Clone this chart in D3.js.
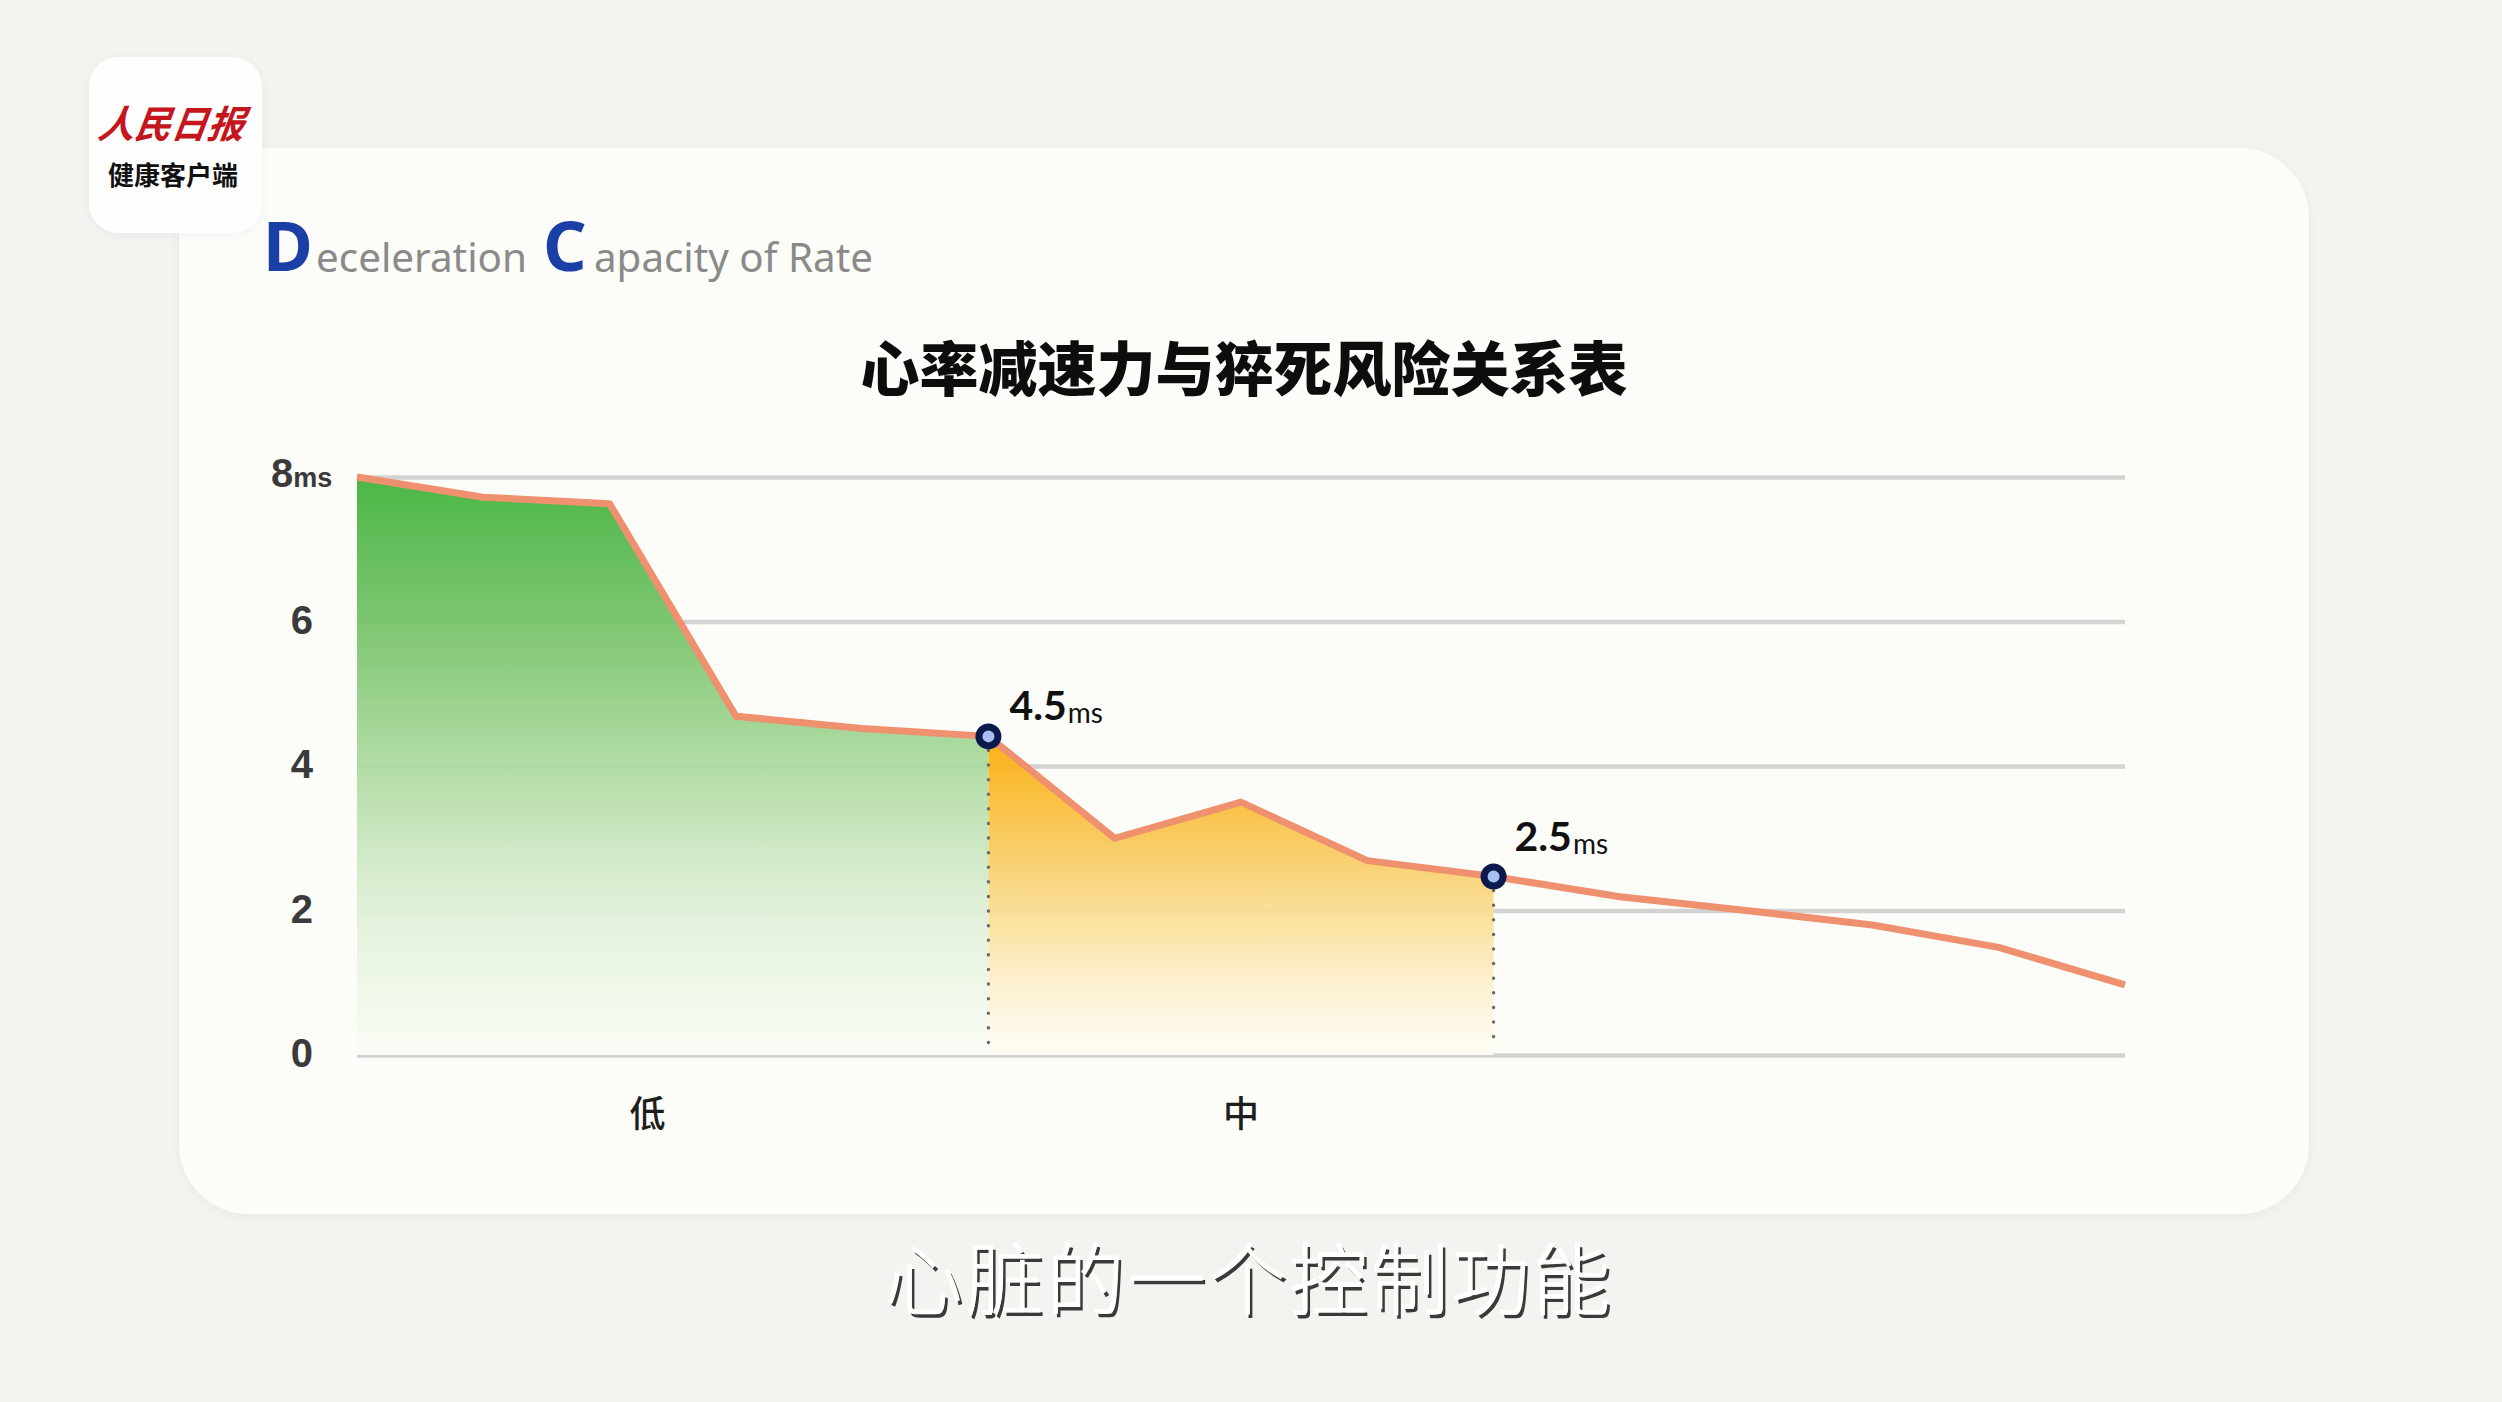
<!DOCTYPE html>
<html>
<head>
<meta charset="utf-8">
<script src="https://cdn.jsdelivr.net/npm/d3@7"></script>
<style>
html,body{margin:0;padding:0;background:#f4f3ef;overflow:hidden}
svg{display:block}
</style>
</head>
<body>
<svg id="chart" width="2502" height="1402"></svg>
<script>
// ---------- DATA ----------
const dcValues = [8.0, 7.72, 7.63, 4.69, 4.52, 4.41, 3.0, 3.5, 2.69, 2.47, 2.19, 2.0, 1.8, 1.49, 0.97];
const yTicks = [0, 2, 4, 6, 8];
const yUnit = "ms";
const riskCategories = ["低", "中"];
const riskCenters = [2.3, 7];          // position in point-index units
const lowZone = [0, 5];                // index range of green zone
const midZone = [5, 9];                // index range of orange zone
const markerIndices = [5, 9];
const markerLabels = ["4.5", "2.5"];
const chartTitle = "心率减速力与猝死风险关系表";
const headerWords = [["D", "eceleration"], ["C", "apacity of Rate"]];
const subtitle = "心脏的一个控制功能";
const logoTop = "人民日报";
const logoBottom = "健康客户端";

// ---------- LAYOUT ----------
const W = 2502, H = 1402;
const plot = {left: 357, right: 2125, top: 477, bottom: 1055};
const svg = d3.select("#chart");
const defs = svg.append("defs");

svg.append("rect").attr("width", W).attr("height", H).attr("fill", "#f4f3ef");

const sh = defs.append("filter").attr("id", "cardShadow").attr("x", "-5%").attr("y", "-5%").attr("width", "110%").attr("height", "110%");
sh.append("feDropShadow").attr("dx", 0).attr("dy", 2).attr("stdDeviation", 6).attr("flood-color", "#000").attr("flood-opacity", 0.04);
svg.append("rect").attr("x", 179).attr("y", 148).attr("width", 2130).attr("height", 1066)
  .attr("rx", 70).attr("fill", "#fcfcf8").attr("filter", "url(#cardShadow)");

// logo
const logo = svg.append("g");
logo.append("rect").attr("x", 89).attr("y", 57).attr("width", 173).attr("height", 176).attr("rx", 30)
  .attr("fill", "#fefefe").attr("filter", "url(#cardShadow)");
logo.append("text").attr("x", 172).attr("y", 124).attr("text-anchor", "middle").attr("dy", "0.36em")
  .attr("font-family", "'Noto Sans CJK SC'").attr("font-weight", 700).attr("font-size", 38)
  .attr("font-style", "italic").attr("fill", "#c4161c")
  .attr("textLength", 146).attr("lengthAdjust", "spacingAndGlyphs")
  .attr("transform", "skewX(-8) translate(17,0)")
  .text(logoTop);
logo.append("text").attr("x", 173).attr("y", 176).attr("text-anchor", "middle").attr("dy", "0.36em")
  .attr("font-family", "'Noto Sans CJK SC'").attr("font-weight", 700).attr("font-size", 26)
  .attr("fill", "#111").text(logoBottom);

// header
const headerX = [[263, 316, 211], [543, 594, 279]];
headerWords.forEach((w, i) => {
  svg.append("text").attr("x", headerX[i][0]).attr("y", 271)
    .attr("font-family", "'Noto Sans', 'Open Sans', sans-serif").attr("font-weight", 700)
    .attr("font-size", 68).attr("fill", "#1a3fa6").text(w[0]);
  svg.append("text").attr("x", headerX[i][1]).attr("y", 272)
    .attr("font-family", "'Noto Sans', 'Open Sans', sans-serif").attr("font-weight", 400)
    .attr("font-size", 40).attr("fill", "#8a8a8a")
    .attr("textLength", headerX[i][2]).attr("lengthAdjust", "spacingAndGlyphs").text(w[1]);
});

// title
svg.append("text").attr("x", 1244).attr("y", 370).attr("text-anchor", "middle").attr("dy", "0.36em")
  .attr("font-family", "'Noto Sans CJK SC'").attr("font-weight", 900).attr("font-size", 59)
  .attr("fill", "#0d0d0d").text(chartTitle);

// ---------- SCALES ----------
const x = d3.scaleLinear().domain([0, dcValues.length - 1]).range([plot.left, plot.right]);
const y = d3.scaleLinear().domain([0, 8]).range([plot.bottom, plot.top]);

const gridAxis = d3.axisLeft(y).tickValues(yTicks).tickSize(-(plot.right - plot.left)).tickFormat("");
const gg = svg.append("g").attr("transform", `translate(${plot.left},0)`).call(gridAxis);
gg.select(".domain").remove();
gg.selectAll(".tick line").attr("stroke", "#d3d3d3").attr("stroke-width", 4.5);

// y labels
const yl = svg.append("g");
yTicks.forEach(t => {
  const isTop = t === d3.max(yTicks);
  const txt = yl.append("text").attr("x", isTop ? 271 : 313).attr("y", y(t))
    .attr("text-anchor", isTop ? "start" : "end").attr("dy", "0.3em")
    .attr("font-family", "'Liberation Sans', Arial, sans-serif").attr("font-weight", 700)
    .attr("font-size", 40).attr("fill", "#3a3a3a");
  if (isTop) {
    txt.attr("dy", "0.26em");
    txt.append("tspan").text(String(t));
    txt.append("tspan").attr("font-size", 27).text(yUnit);
  } else txt.text(String(t));
});

function grad(id, stops, y1, y2) {
  const g = defs.append("linearGradient").attr("id", id).attr("gradientUnits", "userSpaceOnUse")
    .attr("x1", 0).attr("x2", 0).attr("y1", y1).attr("y2", y2);
  stops.forEach(s => g.append("stop").attr("offset", s[0]).attr("stop-color", s[1]));
}
grad("gGreen", [[0, "#3db239"], [0.25, "#74c266"], [0.5, "#addaa0"], [0.75, "#e0f0d8"], [1, "#fafdf6"]],
  y(d3.max(dcValues.slice(lowZone[0], lowZone[1] + 1))), y(0));
grad("gOrange", [[0, "#fdab04"], [0.3, "#f8c550"], [0.55, "#f9dd90"], [0.8, "#fcf1d2"], [1, "#fefdf6"]],
  y(d3.max(dcValues.slice(midZone[0], midZone[1] + 1))), y(0));

const pts = dcValues.map((v, i) => ({i, v}));
const area = d3.area().x(d => x(d.i)).y0(y(0)).y1(d => y(d.v));
svg.append("path").datum(pts.slice(lowZone[0], lowZone[1] + 1)).attr("d", area)
  .attr("fill", "url(#gGreen)").attr("fill-opacity", 0.93);
svg.append("path").datum(pts.slice(midZone[0], midZone[1] + 1)).attr("d", area)
  .attr("fill", "url(#gOrange)").attr("fill-opacity", 0.93);

markerIndices.forEach(i => {
  svg.append("line").attr("x1", x(i)).attr("x2", x(i)).attr("y1", y(dcValues[i]) + 14).attr("y2", y(0) - 12)
    .attr("stroke", "#6a6a6a").attr("stroke-width", 3.4).attr("stroke-linecap", "round")
    .attr("stroke-dasharray", "0.1,14.5");
});

const line = d3.line().x(d => x(d.i)).y(d => y(d.v));
svg.append("path").datum(pts).attr("d", line).attr("fill", "none")
  .attr("stroke", "#ef916e").attr("stroke-width", 7).attr("stroke-linejoin", "round");

markerIndices.forEach((i, k) => {
  svg.append("circle").attr("cx", x(i)).attr("cy", y(dcValues[i])).attr("r", 9.5)
    .attr("fill", "#a9bff3").attr("stroke", "#0c1a4e").attr("stroke-width", 7);
  const t = svg.append("text").attr("x", x(i) + 21).attr("y", y(dcValues[i]) - (k === 0 ? 16 : 26))
    .attr("font-family", "Lato, 'Open Sans', sans-serif").attr("font-weight", 700)
    .attr("font-size", 41).attr("fill", "#111");
  t.append("tspan").text(markerLabels[k]);
  t.append("tspan").attr("font-size", 28).attr("font-weight", 400).attr("dy", 3).attr("dx", 1).text(yUnit);
});

riskCategories.forEach((c, k) => {
  svg.append("text").attr("x", x(riskCenters[k])).attr("y", 1114).attr("text-anchor", "middle").attr("dy", "0.36em")
    .attr("font-family", "'Noto Sans CJK SC'").attr("font-weight", 500).attr("font-size", 36)
    .attr("fill", "#1e1e1e").text(c);
});

[["#3a3a3a", 3, 4], ["#ffffff", 0, 0]].forEach(s => {
  svg.append("text").attr("x", 1249 + s[1]).attr("y", 1281 + s[2]).attr("text-anchor", "middle").attr("dy", "0.36em")
    .attr("font-family", "'Noto Sans CJK SC'").attr("font-weight", 300).attr("font-size", 78)
    .attr("letter-spacing", 3).attr("fill", s[0])
    .attr("stroke", s[0] === "#ffffff" ? "#ffffff" : "none").attr("stroke-width", 1)
    .text(subtitle);
});
</script>
</body>
</html>
